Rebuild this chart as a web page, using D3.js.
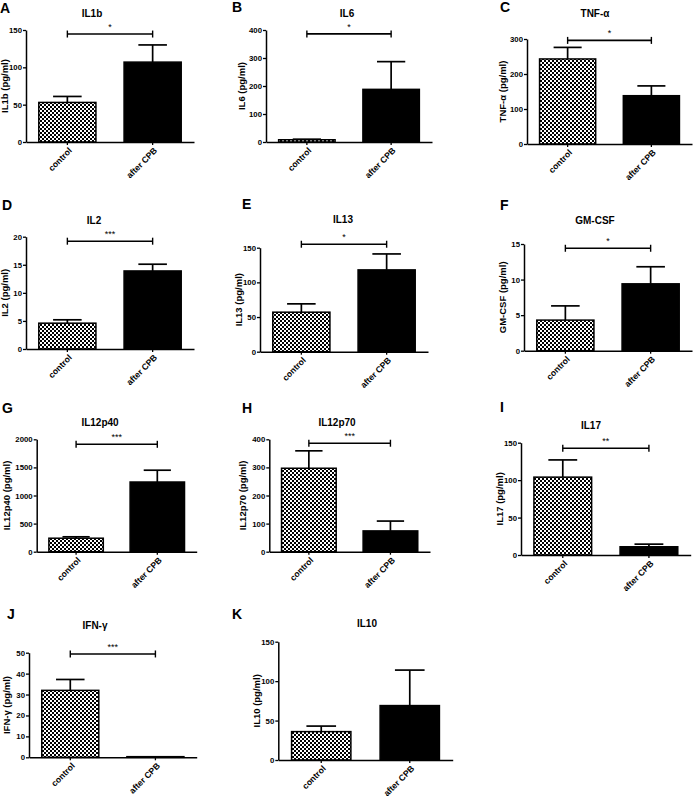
<!DOCTYPE html>
<html><head><meta charset="utf-8">
<script src="https://cdn.jsdelivr.net/npm/d3@7"></script>
<style>
html,body{margin:0;padding:0;background:#fff;}
svg{display:block;font-family:"Liberation Sans",Arial,sans-serif;}
</style></head>
<body>
<svg id="chart" width="694" height="799"></svg>
<script>
// ---------- data ----------
const panelLetters = ["A","B","C","D","E","F","G","H","I","J","K"];
const titles = ["IL1b","IL6","TNF-\u03b1","IL2","IL13","GM-CSF","IL12p40","IL12p70","IL17","IFN-\u03b3","IL10"];
const yLabels = ["IL1b (pg/ml)","IL6 (pg/ml)","TNF-\u03b1 (pg/ml)","IL2 (pg/ml)","IL13 (pg/ml)","GM-CSF (pg/ml)","IL12p40 (pg/ml)","IL12p70 (pg/ml)","IL17 (pg/ml)","IFN-\u03b3 (pg/ml)","IL10 (pg/ml)"];
const categories = ["control","after CPB"];
const controlMeans = [53, 8, 243, 4.6, 57, 4.3, 240, 297, 104, 32, 36];
const controlSEM   = [8, 2, 33, 0.6, 12, 2.0, 25, 62, 23, 5.2, 7];
const afterMeans   = [107, 188, 138, 13.9, 118, 9.4, 1240, 74, 11, 0.3, 69];
const afterSEM     = [23, 99, 28, 1.2, 23, 2.4, 210, 35, 3.5, 0, 45];
const yTicks = [
  [0,50,100,150],[0,100,200,300,400],[0,100,200,300],[0,5,10,15,20],
  [0,50,100,150],[0,5,10,15],[0,500,1000,1500,2000],[0,100,200,300,400],
  [0,50,100,150],[0,10,20,30,40,50],[0,50,100,150]
];
const sigLabels = ["*","*","*","***","*","*","***","***","**","***",""];
const sigLevels = [144.6, 386, 296, 19.2, 155, 14.4, 1911, 386, 142.5, 49.4, null];

// ---------- layout (pixel positions of each panel) ----------
// [letterX, letterBaseline, axisX, axisEnd, yTopPx, yZeroPx, titleX, titleBaseline, yLabelOffset]
const layout = [
  [0, 13, 26, 194, 30, 142, 92, 17, 21],
  [232, 12, 266, 432, 30, 142, 347, 17, 24],
  [500, 12, 527, 692, 39, 144, 595, 17, 24],
  [2, 210, 26, 194, 236.7, 349, 94, 223.5, 21],
  [242, 209, 260, 428, 247.7, 351.7, 343, 223, 21],
  [500, 210, 524, 692, 244, 350.7, 595, 223.5, 21],
  [2, 413, 36.7, 196.7, 439.3, 551.7, 100, 426, 30],
  [242, 413, 269.3, 430, 439.3, 551.7, 337, 426, 27],
  [500, 412, 521, 690.7, 442.7, 555, 591, 429, 21],
  [7, 618.5, 29, 196.7, 652.7, 757.3, 95, 629, 22],
  [232, 618.5, 278.3, 452.7, 641.7, 760, 367, 627, 22]
];

const svg = d3.select("#chart");
const defs = svg.append("defs");
const pat = defs.append("pattern").attr("id","checker")
  .attr("patternUnits","userSpaceOnUse").attr("width",4).attr("height",4);
pat.append("rect").attr("width",4).attr("height",4).attr("fill","#fff");
pat.append("rect").attr("width",2).attr("height",2).attr("fill","#000");
pat.append("rect").attr("x",2).attr("y",2).attr("width",2).attr("height",2).attr("fill","#000");

panelLetters.forEach((letter, i) => {
  const [lx, ly, ax, aEnd, yTop, yZero, tx, ty, lOff] = layout[i];
  const g = svg.append("g");
  const ticks = yTicks[i];
  const y = d3.scaleLinear().domain([0, ticks[ticks.length-1]]).range([yZero, yTop]);
  const x = d3.scaleBand().domain(categories).range([ax, aEnd]).paddingInner(0.33).paddingOuter(0.15);

  // panel letter
  g.append("text").attr("x", lx).attr("y", ly).text(letter)
    .attr("font-size", 14).attr("font-weight","bold").attr("fill","#000");
  // title
  g.append("text").attr("x", tx).attr("y", ty).attr("text-anchor","middle").text(titles[i])
    .attr("font-size", 10).attr("font-weight","bold").attr("fill","#000");

  // bars
  const means = [controlMeans[i], afterMeans[i]];
  const sems = [controlSEM[i], afterSEM[i]];
  const fills = ["url(#checker)", "#000"];
  categories.forEach((c, k) => {
    const bx = x(c), bw = x.bandwidth(), cx = bx + bw/2;
    const top = y(means[k]);
    if (sems[k] > 0) {
      const et = y(means[k] + sems[k]);
      g.append("line").attr("x1",cx).attr("x2",cx).attr("y1",top).attr("y2",et)
        .attr("stroke","#000").attr("stroke-width",1.7);
      g.append("line").attr("x1",cx - bw/4).attr("x2",cx + bw/4).attr("y1",et).attr("y2",et)
        .attr("stroke","#000").attr("stroke-width",1.7);
    }
    g.append("rect").attr("x", bx).attr("y", top).attr("width", bw).attr("height", Math.max(0.01, yZero - top))
      .attr("fill", fills[k]).attr("stroke","#000").attr("stroke-width",1.5);
  });

  // y axis
  const yAxis = g.append("g").attr("transform",`translate(${ax},0)`)
    .call(d3.axisLeft(y).tickValues(ticks).tickSize(3).tickSizeOuter(0).tickFormat(d3.format("d")));
  yAxis.select(".domain").attr("stroke-width",1.5);
  yAxis.selectAll(".tick line").attr("stroke-width",1.3);
  yAxis.selectAll(".tick text").attr("font-size",7.8).attr("font-weight","bold")
    .attr("font-family","'Liberation Sans',Arial,sans-serif").attr("x",-4).attr("fill","#000");

  // x axis
  const xAxis = g.append("g").attr("transform",`translate(0,${yZero})`)
    .call(d3.axisBottom(x).tickSize(3).tickSizeOuter(0));
  xAxis.select(".domain").attr("stroke-width",1.5);
  xAxis.selectAll(".tick line").attr("stroke-width",1.3);
  xAxis.selectAll(".tick text")
    .attr("font-size",8.6).attr("font-weight","bold")
    .attr("font-family","'Liberation Sans',Arial,sans-serif").attr("fill","#000")
    .attr("text-anchor","end").attr("y",0).attr("dy","0.35em")
    .attr("transform","translate(3,7) rotate(-45)");

  // y label
  g.append("text").attr("transform",`translate(${ax-lOff},${(yTop+yZero)/2}) rotate(-90)`)
    .attr("text-anchor","middle").attr("dy","0.35em").text(yLabels[i])
    .attr("font-size",9.5).attr("font-weight","bold").attr("fill","#000");

  // significance bracket
  if (sigLabels[i]) {
    const sy = y(sigLevels[i]);
    const x1 = x(categories[0]) + x.bandwidth()/2, x2 = x(categories[1]) + x.bandwidth()/2;
    g.append("line").attr("x1",x1).attr("x2",x2).attr("y1",sy).attr("y2",sy)
      .attr("stroke","#000").attr("stroke-width",1.6);
    [x1,x2].forEach(xx => g.append("line").attr("x1",xx).attr("x2",xx).attr("y1",sy-3.5).attr("y2",sy+3.5)
      .attr("stroke","#000").attr("stroke-width",1.4));
    g.append("text").attr("x",(x1+x2)/2).attr("y",sy-4).attr("text-anchor","middle")
      .text(sigLabels[i]).attr("font-size",9).attr("fill","#000");
  }
});
</script>
</body></html>
